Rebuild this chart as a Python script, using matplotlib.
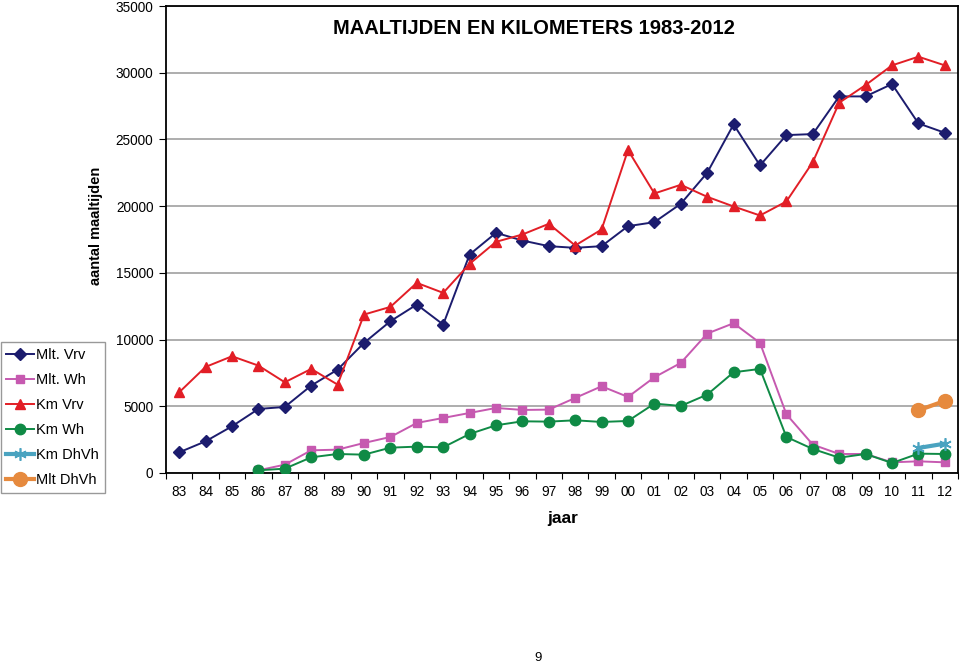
import numpy as np
import matplotlib
matplotlib.use("Agg")
import matplotlib.pyplot as plt

plt.rcParams['font.family'] = ['Liberation Sans', 'DejaVu Sans']

# Gegevens
jaren = ['83', '84', '85', '86', '87', '88', '89', '90', '91', '92', '93', '94', '95', '96', '97',
         '98', '99', '00', '01', '02', '03', '04', '05', '06', '07', '08', '09', '10', '11', '12']
N = None
mlt_vrv = [1550, 2375, 3500, 4800, 4950, 6550, 7750, 9750, 11375, 12625, 11125, 16375, 18000, 17425, 17000,
           16875, 17000, 18500, 18800, 20175, 22500, 26125, 23050, 25325, 25400, 28225, 28225, 29150, 26200, 25500]
mlt_wh = [N, N, N, 200, 625, 1700, 1750, 2250, 2700, 3750, 4125, 4500, 4875, 4725, 4750,
          5625, 6500, 5700, 7175, 8250, 10450, 11225, 9750, 4400, 2125, 1425, 1425, 800, 875, 800]
km_vrv = [6050, 7950, 8750, 8050, 6800, 7800, 6625, 11875, 12450, 14250, 13500, 15675, 17325, 17875, 18675,
          17050, 18250, 24200, 20950, 21600, 20700, 19975, 19300, 20350, 23300, 27750, 29075, 30550, 31200, 30550]
km_wh = [N, N, N, 200, 325, 1175, 1425, 1375, 1900, 1975, 1925, 2925, 3575, 3875, 3850,
         3950, 3825, 3900, 5200, 5025, 5875, 7550, 7800, 2700, 1800, 1150, 1425, 750, 1450, 1425]
km_dhvh = [N] * 28 + [1875, 2200]
mlt_dhvh = [N] * 28 + [4700, 5400]

x = np.arange(len(jaren))
def arr(v):
    return np.array([np.nan if a is None else a for a in v], dtype=float)

fig = plt.figure(figsize=(9.6, 6.64), dpi=100)
ax = fig.add_axes([166/960, 1-473/664, 792/960, 467/664])

ax.plot(x, arr(mlt_vrv), color='#1c1c6e', marker='D', markersize=5.8, lw=1.4, label='Mlt. Vrv', zorder=4)
ax.plot(x, arr(mlt_wh), color='#c659b0', marker='s', markersize=5.8, lw=1.4, label='Mlt. Wh', zorder=4)
ax.plot(x, arr(km_vrv), color='#e21e26', marker='^', markersize=7.5, lw=1.4, label='Km Vrv', zorder=4)
ax.plot(x, arr(km_wh), color='#0f8a45', marker='o', markersize=7.5, lw=1.4, label='Km Wh', zorder=4)
ax.plot(x, arr(km_dhvh), color='#4aa3c0', marker=(6, 2, 0), markersize=9, mew=1.2, lw=3, label='Km DhVh', zorder=5)
ax.plot(x, arr(mlt_dhvh), color='#e68a3e', marker='o', markersize=10, lw=3, label='Mlt DhVh', zorder=5)

ax.set_xlim(-0.5, len(jaren) - 0.5)
ax.set_ylim(0, 35000)
ax.set_yticks(np.arange(0, 35001, 5000))
ax.set_xticks(x)
ax.set_xticklabels(jaren)
ax.set_xticks(np.arange(-0.5, len(jaren), 1), minor=True)
ax.tick_params(axis='x', which='major', length=0, pad=9, labelsize=9.8)
ax.tick_params(axis='x', which='minor', length=4, width=0.8, direction='out')
ax.tick_params(axis='y', length=5, width=0.8, pad=4, labelsize=9.8)
ax.grid(axis='y', color='#a0a0a0', lw=1.2)
ax.set_axisbelow(True)
for s in ax.spines.values():
    s.set_linewidth(1.3)
    s.set_color('black')

fig.text(534/960, 1-29/664, 'MAALTIJDEN EN KILOMETERS 1983-2012', ha='center', va='center',
         fontsize=14.5, fontweight='bold')
fig.text(96/960, 1-226/664, 'aantal maaltijden', ha='center', va='center', rotation=90,
         fontsize=10.5, fontweight='bold')
fig.text(563/960, 1-518/664, 'jaar', ha='center', va='center', fontsize=12.5, fontweight='bold')
fig.text(538/960, 1-658/664, '9', ha='center', va='center', fontsize=9.5)

leg = fig.legend(loc='upper left', bbox_to_anchor=(0.5/960, 1-342/664), fontsize=10.5,
                 handlelength=1.9, handletextpad=0.15, labelspacing=0.76, borderpad=0.4,
                 borderaxespad=0, fancybox=False, framealpha=1)
leg.get_frame().set_edgecolor('#999999')
leg.get_frame().set_linewidth(1.0)

fig.savefig('out.png', dpi=100)
